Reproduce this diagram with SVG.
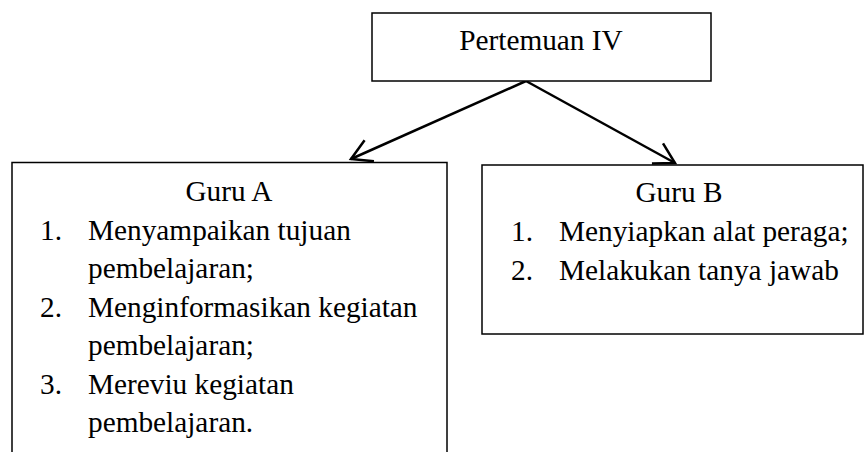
<svg xmlns="http://www.w3.org/2000/svg" width="864" height="452" viewBox="0 0 864 452">
<style>
.box{fill:#fff;stroke:#000;stroke-width:1.5}
.t{font-family:"Liberation Serif","Times New Roman",serif;font-size:29.3px;fill:#000}
.c{text-anchor:middle}
.edge{stroke:#000;stroke-width:2.5;fill:none}
</style>
<defs>
<marker id="ah" markerUnits="userSpaceOnUse" viewBox="-24 -14 28 28" refX="0" refY="0" markerWidth="28" markerHeight="28" orient="auto">
<path d="M-20,-11.5 L0,0 L-20,11.5" fill="none" stroke="#000" stroke-width="2.5"/>
</marker>
</defs>
<rect width="864" height="452" fill="#fff"/>
<g id="connectors">
<path class="edge" d="M526,81 L351,159" marker-end="url(#ah)"/>
<path class="edge" d="M526,81 L675,163" marker-end="url(#ah)"/>
</g>
<g id="pertemuan">
<rect class="box" x="372" y="13" width="339" height="68"/>
<text class="t c" x="541" y="50">Pertemuan IV</text>
</g>
<g id="guruA">
<rect class="box" x="12" y="162.5" width="435" height="300"/>
<text class="t c" x="229" y="200.5">Guru A</text>
<text class="t" x="40" y="239.5">1.</text>
<text class="t" x="88" y="239.5">Menyampaikan tujuan</text>
<text class="t" x="88" y="278">pembelajaran;</text>
<text class="t" x="40" y="316.5">2.</text>
<text class="t" x="88" y="316.5">Menginformasikan kegiatan</text>
<text class="t" x="88" y="355">pembelajaran;</text>
<text class="t" x="40" y="393.5">3.</text>
<text class="t" x="88" y="393.5">Mereviu kegiatan</text>
<text class="t" x="88" y="431.5">pembelajaran.</text>
</g>
<g id="guruB">
<rect class="box" x="482" y="165" width="381" height="169"/>
<text class="t c" x="679" y="201.5">Guru B</text>
<text class="t" x="511" y="240.5">1.</text>
<text class="t" x="559" y="240.5">Menyiapkan alat peraga;</text>
<text class="t" x="511" y="279.5">2.</text>
<text class="t" x="559" y="279.5">Melakukan tanya jawab</text>
</g>
</svg>
